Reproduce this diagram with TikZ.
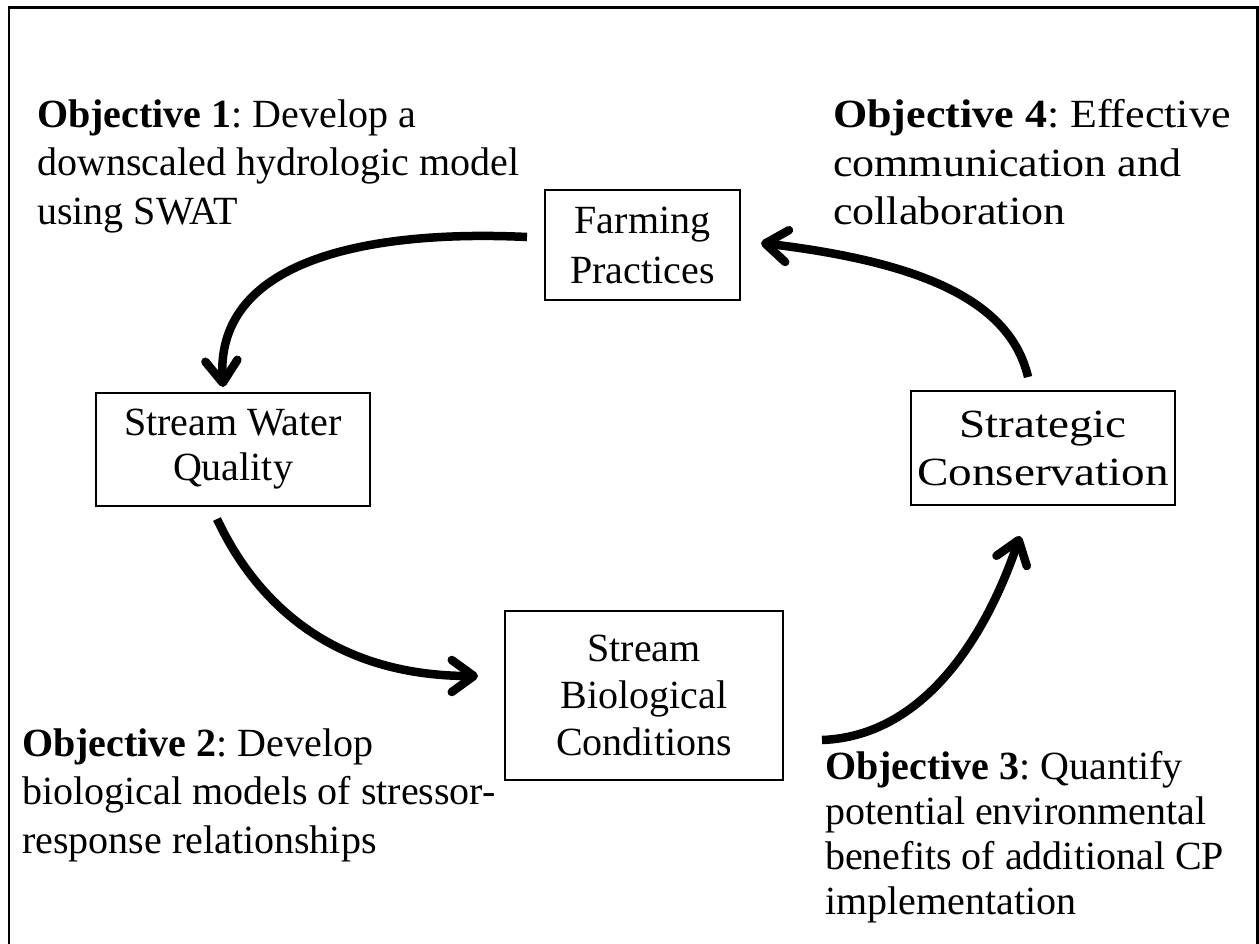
\documentclass[tikz,border=0pt]{standalone}
\usepackage{fontspec}
\setmainfont{Liberation Serif}
\newfontfamily\widerm[FakeStretch=1.18]{Liberation Serif}
\newfontfamily\wideobj[FakeStretch=1.1]{Liberation Serif}
\usetikzlibrary{arrows.meta}
\frenchspacing
\begin{document}
\begin{tikzpicture}[x=1pt,y=-1pt,
  objtext/.style={anchor=north west, align=left, inner sep=0pt, font=\fontsize{40}{48.5}\selectfont},
  stagebox/.style={draw, line width=2.3pt, align=center, inner sep=0pt},
  flow/.style={line width=8.5pt, -{Straight Barb[length=22pt,width=32pt,line cap=round,line join=round]}}
]
\useasboundingbox (0,0) rectangle (1259,943);
\draw[line width=2.5pt] (9,945) -- (9,7.5) -- (1257.5,7.5) -- (1257.5,945);

\node[stagebox, minimum width=195pt, minimum height=110pt, font=\fontsize{40}{50}\selectfont] (farm) at (642.5,245) {Farming\\Practices};
\node[stagebox, minimum width=274pt, minimum height=113pt, font=\fontsize{40}{45}\selectfont] (swq) at (233,449.5) {Stream Water\\Quality};
\node[stagebox, minimum width=278pt, minimum height=169pt, font=\fontsize{40}{47}\selectfont] (sbc) at (644,695.5) {Stream\\Biological\\Conditions};
\node[stagebox, minimum width=264pt, minimum height=114pt, font=\widerm\fontsize{40}{48}\selectfont] (sc) at (1043,448) {Strategic\\Conservation};

\node[objtext] (o1) at (37,99.5) {\textbf{Objective 1}: Develop a\\downscaled hydrologic model\\using SWAT};
\node[objtext, font=\wideobj\fontsize{40}{48.5}\selectfont] (o4) at (833,99.5) {\textbf{Objective 4}: Effective\\communication and\\collaboration};
\node[objtext] (o2) at (22,728.5) {\textbf{Objective 2}: Develop\\biological models of stressor-\\response relationships};
\node[objtext, font=\fontsize{40}{45}\selectfont] (o3) at (825,751) {\textbf{Objective 3}: Quantify\\potential environmental\\benefits of additional CP\\implementation};

\coordinate (a1s) at (527,237);
\coordinate (a1e) at (223,387);
\coordinate (a2s) at (217,519);
\coordinate (a2e) at (478,676);
\coordinate (a3s) at (822,740);
\coordinate (a3e) at (1020,536);
\coordinate (a4s) at (1028,377);
\coordinate (a4e) at (761,243);

\draw[flow] (a1s) .. controls (380,230) and (215,255) .. (a1e);
\draw[flow] (a2s) .. controls (255,600) and (330,676) .. (a2e);
\draw[flow] (a3s) .. controls (930,736) and (990,625) .. (a3e);
\draw[flow] (a4s) .. controls (1010,300) and (920,262) .. (a4e);
\end{tikzpicture}
\end{document}
